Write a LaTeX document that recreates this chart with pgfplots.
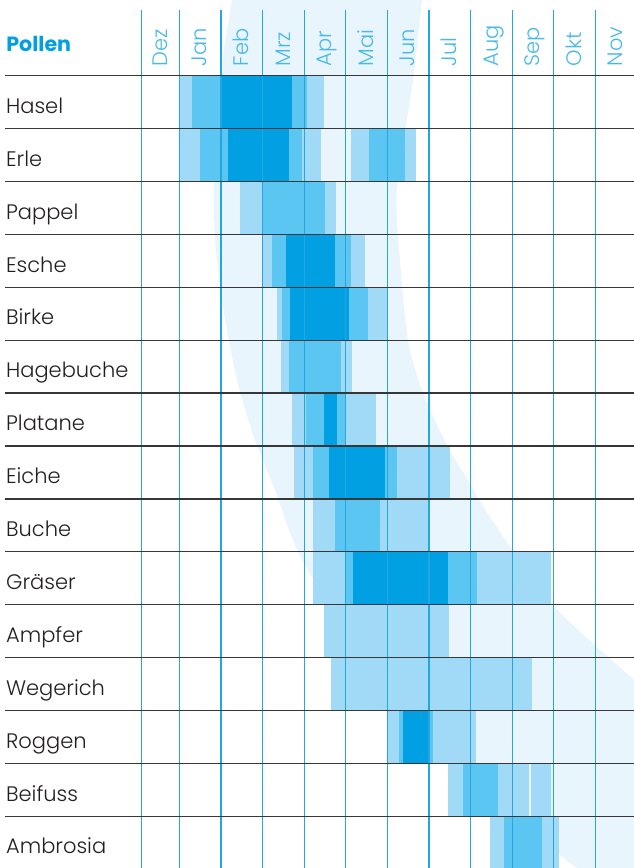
\documentclass[border=0pt]{standalone}
\usepackage{fontspec}
\setmainfont{Poppins Light}
\newfontfamily\pollenfont{Poppins Bold}
\usepackage{pgfplots}
\pgfplotsset{compat=1.18}
\definecolor{cdark}{RGB}{0,160,227}
\definecolor{cmed}{RGB}{91,198,242}
\definecolor{clight}{RGB}{161,218,247}
\definecolor{cband}{RGB}{233,245,253}
\definecolor{cvline}{RGB}{36,166,224}
\definecolor{cmonth}{RGB}{70,185,234}
\definecolor{chline}{RGB}{55,55,55}
\definecolor{ctext}{RGB}{35,31,32}
\newcommand\lblfont{\fontsize{10.5pt}{12pt}\selectfont}
\begin{document}
\begin{tikzpicture}
\begin{axis}[
  width=317pt, height=434pt, scale only axis,
  xmin=-4.3101, xmax=10.9303,
  ymin=-1.4310, ymax=14.9773, y dir=reverse,
  axis lines=none, ticks=none,
  unbounded coords=jump,
  clip=false,
]
% decorative background band
\fill[cband] plot[smooth, tension=0.5] coordinates {(5.87,-1.7) (5.834,-1.431) (5.618,0.081) (5.233,2.161) (5.305,3.484) (5.498,4.997) (5.858,5.999) (6.459,7.019) (6.940,7.643) (7.469,8.342) (8.983,10.006) (10.930,11.423) (11.3,11.75)}
  -- (11.3,15.3) --
  plot[smooth, tension=0.5] coordinates {(9.75,15.1) (9.560,14.977) (9.151,14.731) (7.709,13.692) (6.026,12.180) (4.584,10.856) (3.382,9.722) (2.781,8.871) (2.300,7.832) (1.820,6.886) (1.387,5.752) (1.050,4.372) (0.882,3.295) (0.834,2.161) (0.978,0.081) (1.267,-1.431) (1.30,-1.7)} -- cycle;

% light season
\addplot[no markers, line width=26.45pt, clight] coordinates {
(0,0.5) (3.48,0.5) (nan,nan)
(0,1.5) (3.41,1.5) (nan,nan)
(4.13,1.5) (5.69,1.5) (nan,nan)
(1.46,2.5) (3.77,2.5) (nan,nan)
(2.01,3.5) (4.46,3.5) (nan,nan)
(2.35,4.5) (5.00,4.5) (nan,nan)
(2.45,5.5) (4.14,5.5) (nan,nan)
(2.71,6.5) (4.73,6.5) (nan,nan)
(2.76,7.5) (6.51,7.5) (nan,nan)
(3.21,8.5) (5.99,8.5) (nan,nan)
(3.21,9.5) (8.93,9.5) (nan,nan)
(3.48,10.5) (6.48,10.5) (nan,nan)
(3.65,11.5) (8.47,11.5) (nan,nan)
(4.99,12.5) (7.13,12.5) (nan,nan)
(6.46,13.5) (8.41,13.5) (nan,nan)
(8.45,13.5) (8.94,13.5) (nan,nan)
(7.47,14.5) (9.12,14.5)
};
% medium season
\addplot[no markers, line width=26.45pt, cmed] coordinates {
(0.31,0.5) (3.06,0.5) (nan,nan)
(0.50,1.5) (2.95,1.5) (nan,nan)
(4.56,1.5) (5.43,1.5) (nan,nan)
(2.02,2.5) (3.50,2.5) (nan,nan)
(2.23,3.5) (4.12,3.5) (nan,nan)
(2.47,4.5) (4.54,4.5) (nan,nan)
(2.64,5.5) (3.89,5.5) (nan,nan)
(3.04,6.5) (4.01,6.5) (nan,nan)
(3.21,7.5) (5.23,7.5) (nan,nan)
(3.74,8.5) (4.83,8.5) (nan,nan)
(3.99,9.5) (7.15,9.5) (nan,nan)
(5.28,12.5) (6.10,12.5) (nan,nan)
(6.82,13.5) (7.66,13.5) (nan,nan)
(7.81,14.5) (8.72,14.5)
};
% main season
\addplot[no markers, line width=26.45pt, cdark] coordinates {
(1.03,0.5) (2.71,0.5) (nan,nan)
(1.17,1.5) (2.63,1.5) (nan,nan)
(2.57,3.5) (3.74,3.5) (nan,nan)
(2.67,4.5) (4.08,4.5) (nan,nan)
(3.48,6.5) (3.78,6.5) (nan,nan)
(3.60,7.5) (4.95,7.5) (nan,nan)
(4.18,9.5) (6.47,9.5) (nan,nan)
(5.38,12.5) (5.99,12.5)
};
% vertical month lines
\addplot[no markers, line width=0.6pt, cvline] coordinates {
(-0.904,-1.242) (-0.904,14.977) (nan,nan)
(0,-1.242) (0,14.977) (nan,nan)
(1,-1.242) (1,14.977) (nan,nan)
(2,-1.242) (2,14.977) (nan,nan)
(3,-1.242) (3,14.977) (nan,nan)
(4,-1.242) (4,14.977) (nan,nan)
(5,-1.242) (5,14.977) (nan,nan)
(6,-1.242) (6,14.977) (nan,nan)
(7,-1.242) (7,14.977) (nan,nan)
(8,-1.242) (8,14.977) (nan,nan)
(9,-1.242) (9,14.977) (nan,nan)
(10,-1.242) (10,14.977)
};
% horizontal row lines
\addplot[no markers, line width=0.65pt, chline] coordinates {
(-4.19,0) (10.93,0) (nan,nan)
(-4.19,1) (10.93,1) (nan,nan)
(-4.19,2) (10.93,2) (nan,nan)
(-4.19,3) (10.93,3) (nan,nan)
(-4.19,4) (10.93,4) (nan,nan)
(-4.19,5) (10.93,5) (nan,nan)
(-4.19,6) (10.93,6) (nan,nan)
(-4.19,7) (10.93,7) (nan,nan)
(-4.19,8) (10.93,8) (nan,nan)
(-4.19,9) (10.93,9) (nan,nan)
(-4.19,10) (10.93,10) (nan,nan)
(-4.19,11) (10.93,11) (nan,nan)
(-4.19,12) (10.93,12) (nan,nan)
(-4.19,13) (10.93,13) (nan,nan)
(-4.19,14) (10.93,14)
};
% header
\node[anchor=base west, inner sep=0, text=cdark, font=\pollenfont\fontsize{10.3pt}{12pt}\selectfont] at (axis cs:-4.166,-0.454) {Pollen};
\foreach \m/\lab in {-0.452/Dez, 0.5/Jan, 1.5/Feb, 2.5/Mrz, 3.5/Apr, 4.5/Mai, 5.5/Jun, 6.5/Jul, 7.5/Aug, 8.5/Sep, 9.5/Okt, 10.5/Nov}{
  \edef\tmp{\noexpand\node[rotate=90, anchor=base west, inner sep=0, text=cmonth, font=\noexpand\lblfont] at (axis cs:{\m+0.163},-0.170) {\lab};}\tmp
}
% plant names
\foreach \r/\lab in {0/Hasel, 1/Erle, 2/Pappel, 3/Esche, 4/Birke, 5/Hagebuche, 6/Platane, 7/Eiche, 8/Buche, 9/Gräser, 10/Ampfer, 11/Wegerich, 12/Roggen, 13/Beifuss, 14/Ambrosia}{
  \edef\tmp{\noexpand\node[anchor=base west, inner sep=0, text=ctext, font=\noexpand\lblfont] at (axis cs:-4.173,{\r+0.711}) {\lab};}\tmp
}
\end{axis}
\pgfresetboundingbox
\path (current axis.south west) rectangle (current axis.north east);
\end{tikzpicture}
\end{document}
